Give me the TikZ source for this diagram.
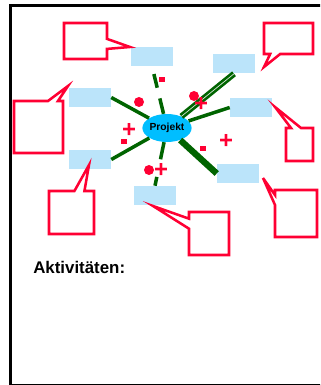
\documentclass[tikz,border=0pt]{standalone}
\usepackage{fontspec}
\setsansfont{Liberation Sans}
\usetikzlibrary{positioning,shapes}

\definecolor{boxblue}{RGB}{187,228,250}
\definecolor{projektcyan}{RGB}{0,190,255}
\definecolor{markred}{RGB}{255,0,51}
\definecolor{spokegreen}{RGB}{0,100,0}

\tikzset{
  box/.style={fill=boxblue, minimum width=1.05cm, minimum height=0.475cm, inner sep=0pt},
  bubble/.style={rectangle callout, draw=markred, line width=1.8pt, fill=white, inner sep=0pt, callout pointer width=0.25cm},
  spoke/.style={draw=spokegreen, line width=2.5pt},
  plusmark/.style={text=markred, font=\sffamily\bfseries\fontsize{17}{17}\selectfont, inner sep=0pt},
  minusmark/.style={fill=markred, minimum width=0.15cm, minimum height=0.125cm, inner sep=0pt},
  dotmark/.style={circle, fill=markred, minimum size=0.25cm, inner sep=0pt}
}

\begin{document}
\begin{tikzpicture}[x=0.025cm, y=-0.025cm]
                    \useasboundingbox (0,0) rectangle (320,385);
                    \clip (0,0) rectangle (320,385);
                    \draw[line width=2.5pt] (10.5,5.5) rectangle (322.5,385.5);
                    \node[ellipse, fill=projektcyan, minimum width=1.1cm, minimum height=0.7cm, inner sep=0pt,
                          font=\sffamily\bfseries\fontsize{7.3}{8}\selectfont] (projekt) at (167,128) {Projekt};
                    \node[box] (b1) at (152,56.5) {};
                    \node[box] (b2) at (90,97.5) {};
                    \node[box] (b3) at (234,64) {};
                    \node[box] (b4) at (251,107.5) {};
                    \node[box] (b5) at (90,159.5) {};
                    \node[box] (b6) at (155,195.5) {};
                    \node[box] (b7) at (238,173.5) {};
                    \draw[spoke, shorten <=5.7pt, dash pattern=on 10pt off 7.8pt on 14pt off 20pt] (b1.south) -- (projekt);
                    \draw[spoke] (b2.east) -- (projekt);
                    \draw[spoke, double=white!85!spokegreen, double distance=0.5pt, line width=1.9pt] (b3.south) -- (projekt);
                    \draw[spoke] (b4.west) -- (projekt);
                    \draw[spoke] (b5.east) -- (projekt);
                    \draw[spoke, dash pattern=on 6.4pt off 12.8pt on 14pt off 20pt] (b6.north) -- (projekt);
                    \draw[spoke, line width=4.5pt] (projekt) -- (b7.west);
                    \node[bubble, minimum width=1.075cm, minimum height=0.9cm, callout absolute pointer={(130,47)}] (c1) at (85.5,41) {};
                    \node[bubble, minimum width=1.225cm, minimum height=1.3cm, callout absolute pointer={(68,86)}] (c2) at (38.5,127) {};
                    \node[bubble, minimum width=1.125cm, minimum height=1.075cm, callout absolute pointer={(89,165)}] (c3) at (71.5,212.5) {};
                    \node[bubble, minimum width=1cm, minimum height=1.075cm, callout absolute pointer={(153,206)}] (c4) at (209,233.5) {};
                    \node[bubble, minimum width=1.05cm, minimum height=1.175cm, callout absolute pointer={(263,178)}] (c5) at (296,213.5) {};
                    \node[bubble, minimum width=0.675cm, minimum height=0.825cm, callout absolute pointer={(275,107)}] (c6) at (299.5,144.5) {};
                    \node[bubble, minimum width=1.225cm, minimum height=0.775cm, callout absolute pointer={(264,67)}] (c7) at (288.5,38.5) {};
                    \node[minusmark] (m1) at (162,80) {};
                    \node[minusmark] (m2) at (124,142) {};
                    \node[minusmark] (m3) at (203,149) {};
                    \node[dotmark] (d1) at (139,102) {};
                    \node[dotmark] (d2) at (194,96) {};
                    \node[dotmark] (d3) at (149,170) {};
                    \node[plusmark] (p1) at (129,130) {+};
                    \node[plusmark] (p2) at (201,104) {+};
                    \node[plusmark] (p3) at (226,141) {+};
                    \node[plusmark] (p4) at (161,170) {+};
                    \node[anchor=base west, inner sep=0pt, font=\sffamily\bfseries\fontsize{12}{14}\selectfont] (aktiv) at (33,273) {Aktivitäten:};
                \end{tikzpicture}
\end{document}
